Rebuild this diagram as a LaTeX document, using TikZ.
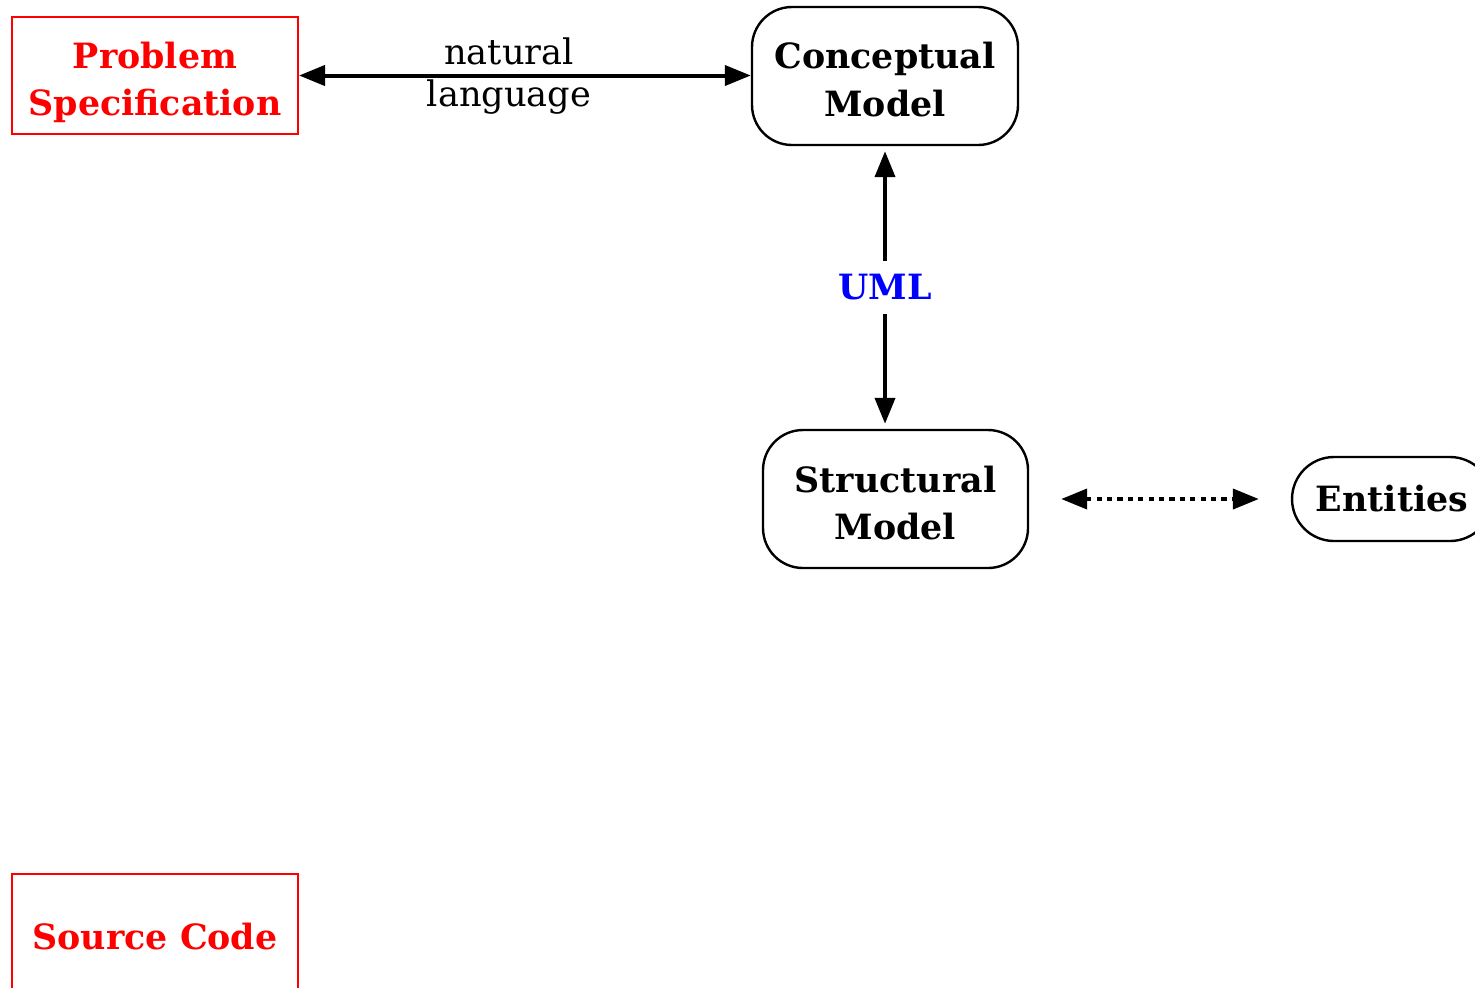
\documentclass[tikz,border=0pt]{standalone}
\usepackage{fontspec}
\setmainfont{DejaVu Serif}
\usetikzlibrary{arrows.meta}
\definecolor{specred}{RGB}{255,0,0}
\definecolor{umlblue}{RGB}{0,0,255}
% invisible strut that pushes a two-line label down inside its box
\newcommand\padtop[1]{\rule{0pt}{#1}}
\begin{document}
\begin{tikzpicture}[x=0.25pt,y=-0.25pt,
  txt/.style={font=\fontsize{8.8}{11.9}\selectfont},
  boldtxt/.style={font=\fontsize{8.7}{11.9}\selectfont\bfseries},
  artefact/.style={boldtxt, draw=specred, line width=0.5pt, text=specred,
    align=center, inner sep=0pt, minimum width=71.5pt},
  model/.style={boldtxt, draw, line width=0.6pt, rounded corners=10pt,
    align=center, inner sep=0pt, minimum width=66.5pt, minimum height=34.5pt},
  link/.style={line width=1pt, {Triangle[length=6.5pt,width=5pt]}-{Triangle[length=6.5pt,width=5pt]}},
]
\useasboundingbox (0,0) rectangle (1475,987);
\clip (0,0) rectangle (1475,987);

% artefacts at both ends of the process
\node[artefact, minimum height=29.25pt] (spec) at (155,75.5) {\padtop{10pt}Problem\\Specification};
\node[artefact, minimum height=31.5pt] (src) at (155,937) {Source Code};

% models
\node[model] (conc) at (885,76) {\padtop{8.4pt}Conceptual\\Model};
\node[model, minimum width=66.25pt] (struct) at (895.5,499) {\padtop{8.6pt}Structural\\Model};
\node[model, minimum width=50pt, minimum height=21pt, rounded corners=10.5pt] (ent) at (1392,499) {Entities};

% connectors
\draw[link] (spec.east) -- (spec.east -| conc.west);
\node[txt, anchor=base] (lblnat) at (509,64) {natural};
\node[txt, anchor=base] (lbllang) at (509,106) {language};

\coordinate (structtop) at (conc.south |- struct.north);
\draw[link, shorten <=1.25pt, shorten >=1.25pt] (conc.south) -- node[boldtxt, fill=white, inner xsep=2pt, inner ysep=3.4pt, text=umlblue] (uml) {UML} (structtop);

\draw[link, dash pattern=on 1.3pt off 1.3pt, shorten <=8pt, shorten >=8pt] (struct.east) -- (ent.west);
\end{tikzpicture}
\end{document}
